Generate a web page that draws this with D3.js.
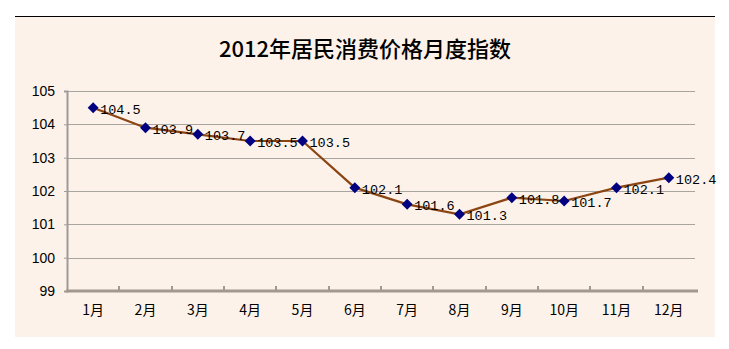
<!DOCTYPE html>
<html><head><meta charset="utf-8">
<script src="https://cdn.jsdelivr.net/npm/d3@7"></script>
<style>body{margin:0;background:#fff;}svg{display:block;}</style>
</head><body>
<svg id="c" width="729" height="349"></svg>
<script>
const title = "2012年居民消费价格月度指数";
const months = ["1月","2月","3月","4月","5月","6月","7月","8月","9月","10月","11月","12月"];
const cpi = [104.5,103.9,103.7,103.5,103.5,102.1,101.6,101.3,101.8,101.7,102.1,102.4];
const yTicks = [99,100,101,102,103,104,105];

const svg = d3.select("#c");
// panel background
svg.append("rect").attr("x",15).attr("y",17).attr("width",700).attr("height",320).attr("fill","#FDF2EA");
svg.append("line").attr("x1",15).attr("x2",715).attr("y1",16.5).attr("y2",16.5).attr("stroke","#000").attr("stroke-width",1);

svg.append("text").attr("x",365).attr("y",57).attr("text-anchor","middle")
  .attr("font-family","'Noto Sans CJK SC', sans-serif").attr("font-size",22).attr("font-weight",500)
  .attr("fill","#000").text(title);

const x = d3.scaleBand().domain(months).range([67,695]);
const y = d3.scaleLinear().domain([99,105]).range([291,91]);

// gridlines
svg.append("g").selectAll("line").data(yTicks.slice(1)).join("line")
  .attr("x1",67).attr("x2",695).attr("y1",d=>Math.round(y(d))+0.5).attr("y2",d=>Math.round(y(d))+0.5)
  .attr("stroke","#A8A4A0").attr("stroke-width",1);

// y axis
const ya = svg.append("g").attr("transform","translate(67,0)")
  .call(d3.axisLeft(y).tickValues(yTicks).tickSize(3).tickPadding(9).tickFormat(d3.format("d")));
ya.select(".domain").attr("stroke","#A09A96").attr("stroke-width",2);
ya.selectAll(".tick line").attr("stroke","#A09A96");
ya.selectAll("text").attr("font-family","'Liberation Sans', Arial, sans-serif").attr("font-size",14).attr("fill","#000");

// x axis
const xa = svg.append("g").attr("transform","translate(0,291)")
  .call(d3.axisBottom(x).tickSize(0).tickPadding(14));
xa.select(".domain").remove();
svg.append("line").attr("x1",66).attr("x2",698).attr("y1",291).attr("y2",291).attr("stroke","#A39891").attr("stroke-width",3);
svg.append("g").selectAll("line").data(months.slice(1)).join("line")
  .attr("x1",d=>Math.round(x(d))).attr("x2",d=>Math.round(x(d))).attr("y1",286).attr("y2",291)
  .attr("stroke","#A39891").attr("stroke-width",2);
xa.selectAll("text").attr("font-family","'Noto Sans CJK SC', sans-serif").attr("font-size",14).attr("fill","#000");

// line
const cx = d=>x(d)+x.bandwidth()/2;
const line = d3.line().x((d,i)=>cx(months[i])).y(d=>y(d));
svg.append("path").datum(cpi).attr("d",line).attr("fill","none").attr("stroke","#8B4513").attr("stroke-width",2.2);

// markers
svg.append("g").selectAll("path").data(cpi).join("path")
  .attr("d",d3.symbol().type(d3.symbolDiamond2).size(76))
  .attr("transform",(d,i)=>`translate(${cx(months[i])},${y(d)})`)
  .attr("fill","#000080");

// labels
svg.append("g").selectAll("text").data(cpi).join("text")
  .attr("x",(d,i)=>cx(months[i])+7).attr("y",d=>y(d)+6)
  .attr("font-family","'Liberation Mono', 'DejaVu Sans Mono', monospace").attr("font-size",13.5)
  .attr("fill","#000").text(d=>d.toFixed(1));
</script>
</body></html>
